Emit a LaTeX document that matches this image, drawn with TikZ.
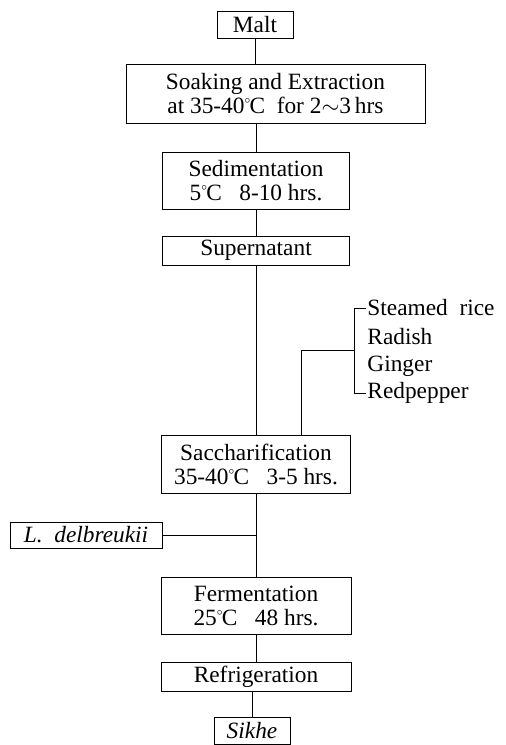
\documentclass[tikz,border=0pt]{standalone}
\usepackage{fontspec}
\setmainfont{Liberation Serif}
\usetikzlibrary{calc,positioning}
\newcommand{\dgC}{\raisebox{0.42em}{\fontsize{8}{8}\selectfont$\circ$}\kern-0.5pt C}

\begin{document}
\begin{tikzpicture}[x=0.75pt, y=-0.75pt, font=\fontsize{17.5}{18}\selectfont,
  line width=0.7pt,
  pbox/.style={draw, rectangle, align=center, inner sep=0pt},
  ing/.style={anchor=west, inner sep=0pt}]
  \useasboundingbox (0,0) rectangle (506,745);
  % main line of the process
  \node[pbox, minimum width=57pt, minimum height=20.25pt] (malt) at (255,24.5) {Malt};
  \node[pbox, minimum width=224.25pt, minimum height=44.25pt] (soak) at (275.5,93.5)
    {Soaking and Extraction\\ at 35-40\dgC{}\ \ for 2$\sim$3\,hrs};
  \node[pbox, minimum width=140.25pt, minimum height=42.75pt] (sed) at (256,180.5)
    {Sedimentation\\ 5\dgC\ \ \ 8-10 hrs.};
  \node[pbox, minimum width=140.25pt, minimum height=21.75pt] (sup) at (256,250.5) {Supernatant};
  \node[pbox, minimum width=141.75pt, minimum height=43.5pt] (sac) at (256,464)
    {Saccharification\\ 35-40\dgC\ \ \ 3-5 hrs.};
  \node[pbox, minimum width=114pt, minimum height=19.5pt] (ldel) at (86,535)
    {\itshape L.\ \ delbreukii};
  \node[pbox, minimum width=142.5pt, minimum height=42.75pt] (ferm) at (256,605.5)
    {Fermentation\\ 25\dgC\ \ \ 48 hrs.};
  \node[pbox, minimum width=142.5pt, minimum height=21.75pt] (refr) at (256,676.5) {Refrigeration};
  \node[pbox, minimum width=57pt, minimum height=20pt] (sikhe) at (252,731) {\itshape Sikhe};

  % ingredients added before saccharification
  \node[ing] (rice) at (367,308) {Steamed\ \ rice};
  \node[ing] (radish) at (367,337) {Radish};
  \node[ing] (ginger) at (367,366) {Ginger};
  \node[ing] (pepper) at (367,393) {Redpepper};

  \draw (malt) -- (malt |- soak.north);
  \draw (sed.north |- soak.south) -- (sed);
  \draw (sed) -- (sup);
  \draw (sup) -- (sac);
  \draw (sac) -- (ferm);
  \draw (ferm) -- (refr);
  \draw (sikhe |- refr.south) -- (sikhe);
  \draw (ldel) -- (ldel -| sac);
  \draw ([xshift=-1pt]rice.west) -- ++(-11,0) coordinate (brt)
    -- (brt |- pepper.west) -- ([xshift=-1pt]pepper.west);
  \coordinate (join) at ($(brt)!0.5!(brt |- pepper.west)$);
  \draw (join) -- ++(-53,0) coordinate (drop) -- (drop |- sac.north);
\end{tikzpicture}
\end{document}
